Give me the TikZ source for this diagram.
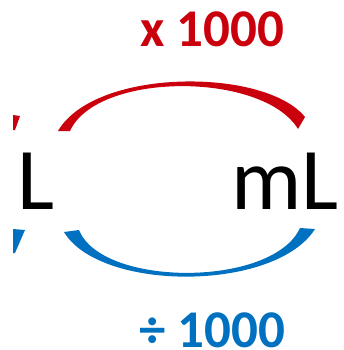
\documentclass[tikz,border=0pt]{standalone}
\usepackage{fontspec}
\setmainfont{Carlito}
\definecolor{myred}{RGB}{202,0,12}
\definecolor{myblue}{RGB}{0,112,192}
\begin{document}
\begin{tikzpicture}[x=1pt,y=-1pt,
  unitlabel/.style={inner sep=0pt,anchor=base,font=\fontsize{88}{90}\selectfont},
  factorlabel/.style={inner sep=0pt,anchor=base,font=\fontsize{53}{55}\selectfont\bfseries}]
\useasboundingbox (0,0) rectangle (344,350);
% labels
\node[unitlabel] (L) at (36,209) {L};
\node[unitlabel] (mL) at (285,209) {mL};
\node[factorlabel,text=myred] (mul) at (212,47) {x 1000};
\node[factorlabel,text=myblue] (div) at (212,347) {÷ 1000};
% red tapered arc (L -> mL)
\fill[myred] (58,131) .. controls (95,67.5) and (265,67.5) .. (305,117)
  -- (298,129) .. controls (263,71.5) and (97,71.5) .. (70,131) -- cycle;
% blue tapered arc (mL -> L)
\fill[myblue] (64,232) .. controls (100,292) and (275,292) .. (315,229)
  -- (300,228) .. controls (273,287.5) and (102,287.5) .. (79,230) -- cycle;
% cut-off fragments at the left edge
\fill[myred] (13,115) -- (20,116) -- (15,130) -- (13,130) -- cycle;
\fill[myblue] (13,229) -- (25,230) -- (15,253) -- (13,253) -- cycle;
\end{tikzpicture}
\end{document}
